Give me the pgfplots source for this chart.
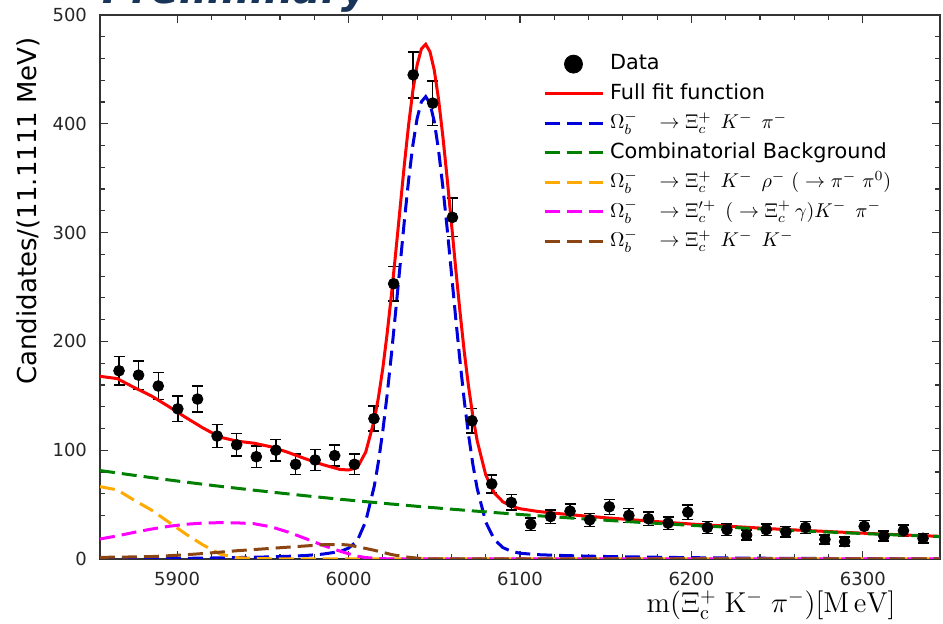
\documentclass[border=0pt]{standalone}
\usepackage[no-math]{fontspec}
\setmainfont{DejaVu Sans}
\usepackage{pgfplots}
\usepackage{pgfplotstable}
\pgfplotsset{compat=1.18}

\definecolor{fitred}{RGB}{255,0,0}
\definecolor{sigblue}{RGB}{0,0,220}
\definecolor{combgreen}{RGB}{0,128,0}
\definecolor{rhoorange}{RGB}{255,170,0}
\definecolor{ximagenta}{RGB}{255,0,255}
\definecolor{kkbrown}{RGB}{139,69,19}
\definecolor{prelim}{RGB}{24,52,88}

% spacing used in the decay-chain labels
\newcommand{\ga}{\hspace{8pt}}
\newcommand{\gb}{\hspace{4.5pt}}
\newcommand{\gc}{\hspace{3pt}}

% legend sample for the data: one large dot centred on the line samples
\pgfplotsset{datalegend/.style={legend image code/.code={%
  \path[draw=none] (0pt,0pt) -- (29pt,0pt);
  \draw[##1, mark size=4.5pt] plot coordinates {(14.5pt,0pt)};}}}

% binned candidates: bin centre [MeV], count, uncertainty
\pgfplotstableread{
m n e
5866.1 173 13.2
5877.5 169 13.0
5889.0 159 12.6
5900.4 138 11.7
5911.9 147 12.1
5923.3 113 10.6
5934.7 105 10.2
5946.2 94 9.7
5957.6 100 10.0
5969.1 87 9.3
5980.5 91 9.5
5991.9 95 9.7
6003.4 87 9.3
6014.8 129 11.4
6026.3 253 15.9
6037.7 445 21.1
6049.1 419 20.5
6060.6 314 17.7
6072.0 127 11.3
6083.5 69 8.3
6094.9 52 7.2
6106.3 32 5.7
6117.8 39 6.2
6129.2 44 6.6
6140.7 36 6.0
6152.1 48 6.9
6163.5 40 6.3
6175.0 37 6.1
6186.4 33 5.7
6197.9 43 6.6
6209.3 29 5.4
6220.7 27 5.2
6232.2 22 4.7
6243.6 27 5.2
6255.1 25 5.0
6266.5 29 5.4
6277.9 18 4.2
6289.4 16 4.0
6300.8 30 5.5
6312.3 21 4.6
6323.7 26 5.1
6335.1 19 4.4
}\datatable

% fit components: combinatorial, rho mode, Xi_c' mode, KK mode, signal, total
\pgfplotstableread{
m comb rho xip kk sig full
5855 81.3 66.5 18.4 1.5 0.2 167.9
5865 79.1 63.5 21.2 1.7 0.3 165.8
5875 76.9 54.0 24.5 1.9 0.3 157.6
5885 74.8 45.0 27.5 2.2 0.4 149.9
5895 72.7 34.0 30.0 3.0 0.5 140.2
5905 70.7 23.0 31.9 3.9 0.6 130.1
5915 68.7 13.0 33.0 5.0 0.8 120.5
5925 66.8 4.5 33.4 6.3 1.0 112.0
5935 65.0 1.2 33.2 7.6 1.3 108.3
5945 63.2 0.5 32.4 8.7 1.6 106.4
5955 61.5 0.2 29.5 9.8 2.0 103.0
5965 59.8 0.0 24.6 10.9 2.5 97.8
5975 58.1 0.0 18.7 12.0 3.2 92.0
5985 56.5 0.0 12.6 13.1 4.5 86.7
5995 54.9 0.0 7.2 13.4 6.8 82.3
6000 54.2 0.0 4.8 12.8 10.0 81.8
6005 53.4 0.0 2.6 11.3 16.5 83.8
6010 52.7 0.0 1.3 9.7 34.5 98.2
6015 52.0 0.0 0.7 8.0 67.0 127.7
6017.5 51.6 0.0 0.5 7.0 90.1 149.2
6020 51.2 0.0 0.3 6.1 118.0 175.6
6022.5 50.9 0.0 0.2 5.1 151.0 207.2
6025 50.5 0.0 0.1 4.1 188.0 242.7
6027.5 50.2 0.0 0.0 3.4 228.0 281.6
6030 49.8 0.0 0.0 2.8 269.0 321.6
6032.5 49.5 0.0 0.0 2.2 310.2 361.9
6035 49.1 0.0 0.0 1.6 348.0 398.7
6037.5 48.8 0.0 0.0 1.2 380.4 430.4
6040 48.4 0.0 0.0 0.8 405.0 454.2
6042.5 48.1 0.0 0.0 0.5 420.3 468.9
6045 47.8 0.0 0.0 0.3 425.0 473.1
6047.5 47.4 0.0 0.0 0.2 418.6 466.2
6050 47.1 0.0 0.0 0.1 402.0 449.2
6052.5 46.8 0.0 0.0 0.0 375.7 422.5
6055 46.4 0.0 0.0 0.0 342.0 388.4
6057.5 46.1 0.0 0.0 0.0 303.9 350.0
6060 45.8 0.0 0.0 0.0 263.0 308.8
6062.5 45.5 0.0 0.0 0.0 221.4 266.9
6065 45.2 0.0 0.0 0.0 182.0 227.2
6067.5 44.8 0.0 0.0 0.0 145.4 190.2
6070 44.5 0.0 0.0 0.0 114.0 158.5
6072.5 44.2 0.0 0.0 0.0 87.0 131.2
6075 43.9 0.0 0.0 0.0 65.0 108.9
6080 43.3 0.0 0.0 0.0 34.0 77.3
6085 42.7 0.0 0.0 0.0 18.0 60.7
6090 42.1 0.0 0.0 0.0 10.5 52.6
6095 41.5 0.0 0.0 0.0 7.0 48.5
6100 40.9 0.0 0.0 0.0 5.3 46.2
6110 39.8 0.0 0.0 0.0 4.0 43.8
6120 38.7 0.0 0.0 0.0 3.4 42.1
6135 37.1 0.0 0.0 0.0 2.8 39.9
6150 35.6 0.0 0.0 0.0 2.3 37.9
6175 33.2 0.0 0.0 0.0 1.7 34.9
6200 30.9 0.0 0.0 0.0 1.2 32.1
6225 28.9 0.0 0.0 0.0 0.9 29.8
6250 26.9 0.0 0.0 0.0 0.6 27.5
6275 25.1 0.0 0.0 0.0 0.5 25.6
6300 23.4 0.0 0.0 0.0 0.3 23.7
6325 21.8 0.0 0.0 0.0 0.2 22.0
6345 20.6 0.0 0.0 0.0 0.2 20.8
}\curves

\begin{document}
\begin{tikzpicture}
\begin{axis}[
  at={(0pt,0pt)}, anchor=south west,
  width=420pt, height=272pt, scale only axis,
  xmin=5855, xmax=6345, ymin=0, ymax=500,
  xtick={5900,6000,6100,6200,6300},
  ytick={0,100,200,300,400,500},
  minor x tick num=4, minor y tick num=4,
  tick align=inside,
  major tick length=4pt, minor tick length=2.5pt,
  every tick/.append style={black!80, line width=0.6pt},
  axis line style={black!80, line width=0.8pt},
  /pgf/number format/assume math mode=true,
  /pgf/number format/1000 sep={},
  ticklabel style={font=\fontsize{9}{10.8}\selectfont, text=black!85},
  xticklabel style={yshift=-3.2pt},
  yticklabel style={xshift=-3pt},
  ylabel={Candidates/(11.1111 MeV)},
  ylabel style={at={(axis description cs:-0.0857,0.64)}, anchor=center,
    font=\fontsize{13}{15}\selectfont},
  xlabel={$\mathrm{m(\Xi_c^{+}\;K^{-}\;\pi^{-})[M\,eV]}$},
  xlabel style={at={(axis description cs:0.799,-0.085)}, anchor=center,
    font=\fontsize{14}{16}\selectfont},
  legend cell align=left,
  legend style={draw=none, fill=none, at={(0.5274,0.929)}, anchor=north west,
    inner sep=0pt, outer sep=0pt, font=\fontsize{10.4}{12.5}\selectfont,
    row sep=4.25pt, nodes={inner sep=0pt, text height=8pt, text depth=2.5pt},
    /tikz/every odd column/.append style={column sep=3pt}},
  legend image code/.code={\draw[#1] (0pt,0pt) -- (29pt,0pt);},
]
\addplot[only marks, mark=*, mark size=2.7pt, black,
  mark options={fill=black, draw=black}, datalegend,
  error bars/.cd, y dir=both, y explicit,
  error bar style={line width=0.75pt, black},
  error mark options={rotate=90, mark size=2.75pt, line width=0.75pt, black}]
  table[x=m, y=n, y error=e] {\datatable};
\addlegendentry{Data}
\addplot[fitred, line width=1.5pt] table[x=m, y=full] {\curves};
\addlegendentry{Full fit function}
\addplot[sigblue, line width=1.5pt, dash pattern=on 7.5pt off 3.5pt] table[x=m, y=sig] {\curves};
\addlegendentry{$\Omega_b^{-}\ga\rightarrow\Xi_c^{+}\gb K^{-}\gb\pi^{-}$}
\addplot[combgreen, line width=1.5pt, dash pattern=on 7.5pt off 3.5pt] table[x=m, y=comb] {\curves};
\addlegendentry{Combinatorial Background}
\addplot[rhoorange, line width=1.5pt, dash pattern=on 7.5pt off 3.5pt] table[x=m, y=rho] {\curves};
\addlegendentry{$\Omega_b^{-}\ga\rightarrow\Xi_c^{+}\gb K^{-}\gb\rho^{-}\gc(\gc\rightarrow\pi^{-}\gc\pi^{0})$}
\addplot[ximagenta, line width=1.5pt, dash pattern=on 7.5pt off 3.5pt] table[x=m, y=xip] {\curves};
\addlegendentry{$\Omega_b^{-}\ga\rightarrow\Xi_c^{\prime +}\gb(\gc\rightarrow\Xi_c^{+}\hspace{2pt}\gamma)K^{-}\gb\pi^{-}$}
\addplot[kkbrown, line width=1.5pt, dash pattern=on 7.5pt off 3.5pt] table[x=m, y=kk] {\curves};
\addlegendentry{$\Omega_b^{-}\ga\rightarrow\Xi_c^{+}\gb K^{-}\gb K^{-}$}
\end{axis}
\node[anchor=base west, inner sep=0pt, text=prelim,
  font=\fontsize{20.5}{24}\selectfont\bfseries\itshape] at (1pt,277.5pt) {Preliminary};
\pgfresetboundingbox
\useasboundingbox (-50pt,-32.5pt) rectangle (421.5pt,279.5pt);
\end{tikzpicture}
\end{document}
